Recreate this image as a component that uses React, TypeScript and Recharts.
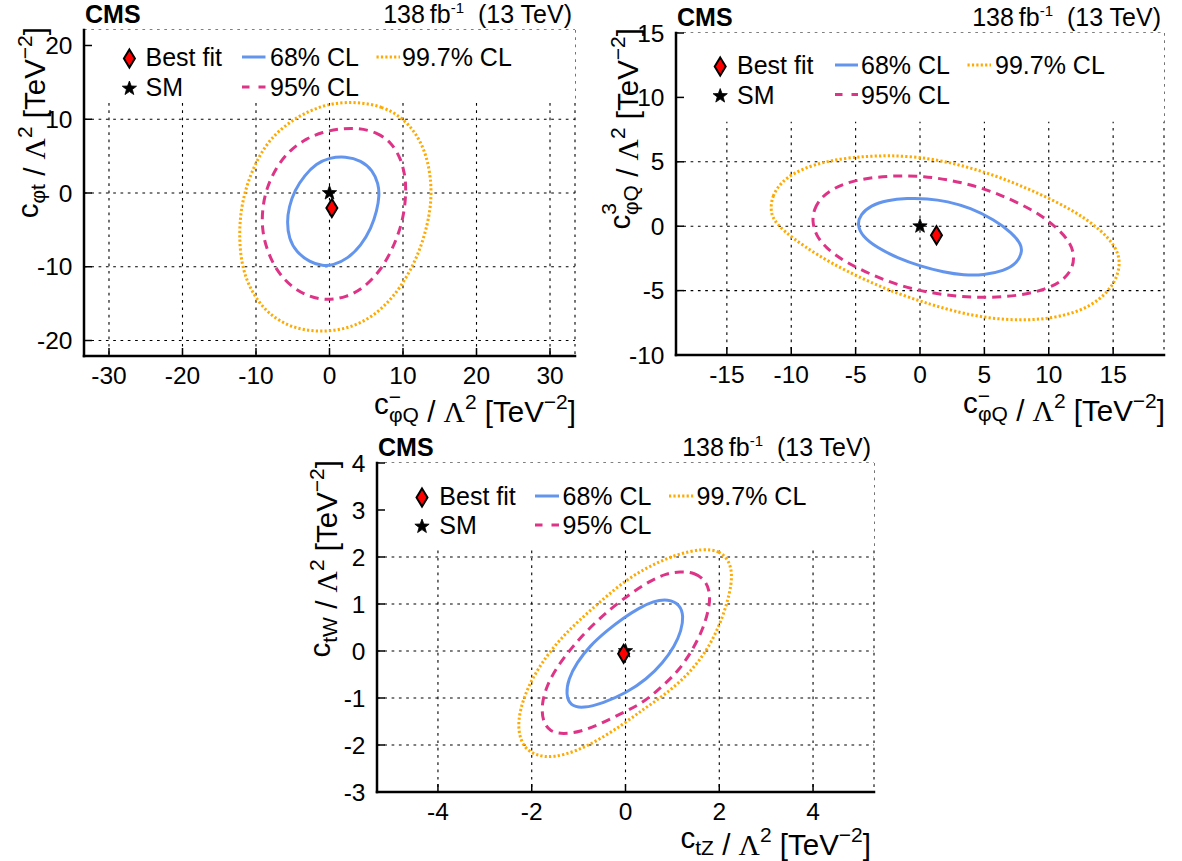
import React from 'react';
import { ComposedChart, Line, Scatter, XAxis, YAxis, CartesianGrid, ReferenceArea } from 'recharts';

type Pt = [number, number];

const SANS = '"Liberation Sans", Arial, Helvetica, sans-serif';
const SERIF = '"Liberation Serif", "Times New Roman", serif';

const COL68 = '#6495ED';
const COL95 = '#DE3487';
const COL997 = '#FFAA00';

// ---------------- Panel 1: c_phiQ^- vs c_phit ----------------
const P1_X_TICKS = [-30, -20, -10, 0, 10, 20, 30];
const P1_Y_TICKS = [-20, -10, 0, 10, 20];
const P1_X_DOMAIN: Pt = [-33.4, 33.4];
const P1_Y_DOMAIN: Pt = [-22.1, 22.1];
const P1_CL68: Pt[] = [
  [2.17, 4.98], [4.3, 4.43], [5.88, 3.08], [6.65, 1.27], [6.79, -0.32], [6.47, -2.35], [5.66, -4.84],
  [4.3, -7.1], [2.49, -8.91], [0.45, -9.82], [-0.9, -9.91], [-2.71, -9.37], [-4.52, -8.01], [-5.52, -6.2],
  [-5.79, -3.94], [-5.52, -1.9], [-4.75, 0.36], [-3.39, 2.4], [-1.81, 3.98], [0, 4.8],
];
const P1_CL95: Pt[] = [
  [3.85, 8.82], [6.33, 8.28], [8.37, 6.92], [9.73, 4.66], [10.32, 2.17], [10.41, 0.14], [10.18, -2.58],
  [9.5, -5.29], [8.37, -8.01], [6.79, -10.72], [4.52, -12.99], [2.26, -14.12], [-0.23, -14.57],
  [-2.71, -14.12], [-5.2, -12.76], [-7.24, -10.5], [-8.6, -7.56], [-9.19, -4.84], [-9.14, -2.13],
  [-8.6, 0.59], [-7.24, 3.53], [-5.43, 5.79], [-3.17, 7.38], [-0.9, 8.28], [1.36, 8.73],
];
const P1_CL997: Pt[] = [
  [3.8, 12.35], [7.18, 11.76], [9.78, 10.32], [11.86, 8.05], [13.32, 4.89], [13.94, 0.81], [13.68, -2.81],
  [12.64, -6.88], [11.08, -10.5], [8.74, -14.12], [5.88, -16.83], [2.5, -18.42], [-1.14, -18.87],
  [-4.79, -18.42], [-8.17, -16.61], [-10.51, -13.67], [-11.97, -10.05], [-12.33, -5.52], [-11.97, -1.45],
  [-10.77, 2.62], [-8.69, 6.7], [-5.83, 9.41], [-2.71, 11.22], [0.42, 12.22],
];
const P1_BEST: Pt = [0.32, -2.04];
const P1_SM: Pt = [0, 0];

// ---------------- Panel 2: c_phiQ^- vs c_phiQ^3 ----------------
const P2_X_TICKS = [-15, -10, -5, 0, 5, 10, 15];
const P2_Y_TICKS = [-10, -5, 0, 5, 10, 15];
const P2_X_DOMAIN: Pt = [-18.95, 18.95];
const P2_Y_DOMAIN: Pt = [-10, 15];
const P2_CL68: Pt[] = [
  [-4.88, 0.13], [-4.62, 0.91], [-3.84, 1.6], [-2.55, 2.02], [-1.0, 2.17], [0.56, 2.15], [2.11, 1.94],
  [3.92, 1.42], [5.73, 0.52], [7.16, -0.52], [7.86, -1.42], [7.93, -1.94], [7.59, -2.85], [6.5, -3.49],
  [4.95, -3.8], [3.4, -3.8], [1.85, -3.57], [0.04, -3.11], [-1.77, -2.46], [-3.32, -1.68], [-4.49, -0.78],
];
const P2_CL95: Pt[] = [
  [-8.37, 0.39], [-8.24, 1.29], [-7.72, 2.2], [-6.69, 2.98], [-5.14, 3.55], [-3.33, 3.83], [-1.51, 3.93],
  [0.3, 3.88], [2.11, 3.62], [3.92, 3.23], [5.73, 2.64], [7.54, 1.86], [9.36, 0.91], [10.78, -0.26],
  [11.69, -1.29], [12.0, -2.33], [11.82, -3.36], [11.04, -4.27], [9.74, -4.92], [7.8, -5.38], [5.47, -5.56],
  [3.14, -5.49], [0.82, -5.18], [-1.51, -4.66], [-3.84, -3.75], [-5.91, -2.72], [-7.33, -1.68], [-8.11, -0.65],
];
const P2_CL997: Pt[] = [
  [-11.61, 1.29], [-11.48, 2.33], [-10.83, 3.36], [-9.8, 4.14], [-8.24, 4.79], [-6.17, 5.25], [-4.1, 5.43],
  [-2.29, 5.49], [-0.22, 5.38], [1.85, 5.05], [3.92, 4.53], [5.99, 3.88], [8.06, 3.05], [10.13, 2.12],
  [12.2, 1.04], [14.01, -0.26], [15.18, -1.55], [15.57, -2.72], [15.31, -4.01], [14.53, -5.18],
  [13.24, -6.21], [11.43, -6.91], [9.36, -7.25], [7.29, -7.3], [5.22, -7.12], [3.14, -6.73], [0.82, -6.08],
  [-1.77, -5.23], [-4.36, -4.14], [-6.95, -2.85], [-9.02, -1.55], [-10.57, -0.39], [-11.4, 0.52],
];
const P2_BEST: Pt = [1.28, -0.7];
const P2_SM: Pt = [0, 0];

// ---------------- Panel 3: c_tZ vs c_tW ----------------
const P3_X_TICKS = [-4, -2, 0, 2, 4];
const P3_Y_TICKS = [-3, -2, -1, 0, 1, 2, 3, 4];
const P3_X_DOMAIN: Pt = [-5.3, 5.3];
const P3_Y_DOMAIN: Pt = [-3, 4];
const P3_CL68: Pt[] = [
  [0.91, 1.11], [1.16, 0.99], [1.24, 0.74], [1.19, 0.43], [1.05, 0.11], [0.8, -0.25], [0.45, -0.6],
  [0.02, -0.89], [-0.48, -1.11], [-0.9, -1.22], [-1.18, -1.17], [-1.27, -0.92], [-1.22, -0.6],
  [-1.04, -0.25], [-0.76, 0.11], [-0.4, 0.43], [-0.05, 0.7], [0.3, 0.92], [0.59, 1.06],
];
const P3_CL95: Pt[] = [
  [1.16, 1.69], [1.48, 1.67], [1.72, 1.49], [1.81, 1.21], [1.78, 0.89], [1.65, 0.46], [1.44, 0.04],
  [1.16, -0.39], [0.8, -0.74], [0.38, -1.1], [-0.05, -1.31], [-0.55, -1.56], [-0.97, -1.72], [-1.33, -1.77],
  [-1.61, -1.72], [-1.77, -1.49], [-1.79, -1.13], [-1.68, -0.74], [-1.47, -0.35], [-1.15, 0.07],
  [-0.76, 0.5], [-0.33, 0.89], [0.09, 1.21], [0.52, 1.49], [0.87, 1.65],
];
const P3_CL997: Pt[] = [
  [1.65, 2.18], [2.01, 2.13], [2.22, 1.91], [2.28, 1.6], [2.22, 1.21], [2.08, 0.74], [1.87, 0.25],
  [1.58, -0.21], [1.23, -0.6], [0.8, -0.96], [0.38, -1.24], [-0.05, -1.56], [-0.55, -1.88], [-1.04, -2.13],
  [-1.54, -2.27], [-1.89, -2.23], [-2.18, -2.06], [-2.3, -1.67], [-2.25, -1.24], [-2.07, -0.74],
  [-1.79, -0.25], [-1.4, 0.25], [-0.97, 0.67], [-0.48, 1.1], [0.02, 1.52], [0.52, 1.81], [1.09, 2.06],
];
const P3_BEST: Pt = [-0.04, -0.06];
const P3_SM: Pt = [0, 0];

// ---------------- layout ----------------
interface Frame { L: number; T: number; R: number; B: number }
const F1: Frame = { L: 84, T: 30, R: 575, B: 356 };
const F2: Frame = { L: 676, T: 33, R: 1164, B: 355 };
const F3: Frame = { L: 377, T: 463, R: 874, B: 792 };

interface PanelCfg {
  frame: Frame;
  xDomain: Pt; yDomain: Pt; xTicks: number[]; yTicks: number[];
  cl68: Pt[]; cl95: Pt[]; cl997: Pt[]; best: Pt; sm: Pt; legendFloor: number;
}

const PANELS: PanelCfg[] = [
  { frame: F1, xDomain: P1_X_DOMAIN, yDomain: P1_Y_DOMAIN, xTicks: P1_X_TICKS, yTicks: P1_Y_TICKS,
    cl68: P1_CL68, cl95: P1_CL95, cl997: P1_CL997, best: P1_BEST, sm: P1_SM, legendFloor: 12.6 },
  { frame: F2, xDomain: P2_X_DOMAIN, yDomain: P2_Y_DOMAIN, xTicks: P2_X_TICKS, yTicks: P2_Y_TICKS,
    cl68: P2_CL68, cl95: P2_CL95, cl997: P2_CL997, best: P2_BEST, sm: P2_SM, legendFloor: 8.1 },
  { frame: F3, xDomain: P3_X_DOMAIN, yDomain: P3_Y_DOMAIN, xTicks: P3_X_TICKS, yTicks: P3_Y_TICKS,
    cl68: P3_CL68, cl95: P3_CL95, cl997: P3_CL997, best: P3_BEST, sm: P3_SM, legendFloor: 2.2 },
];

const toXY = (pts: Pt[]) => pts.map(([x, y]) => ({ x, y }));

function starPoints(cx: number, cy: number, R: number, r: number) {
  const out: string[] = [];
  for (let i = 0; i < 10; i++) {
    const a = -Math.PI / 2 + (i * Math.PI) / 5;
    const rad = i % 2 === 0 ? R : r;
    out.push(`${cx + rad * Math.cos(a)},${cy + rad * Math.sin(a)}`);
  }
  return out.join(' ');
}

const Diamond = ({ cx, cy }: { cx: number; cy: number }) => (
  <polygon
    points={`${cx},${cy - 9} ${cx + 5.5},${cy} ${cx},${cy + 9} ${cx - 5.5},${cy}`}
    fill="#ff0000" stroke="#000" strokeWidth={2} strokeLinejoin="miter"
  />
);
const Star = ({ cx, cy }: { cx: number; cy: number }) => (
  <polygon points={starPoints(cx, cy, 7.5, 3.1)} fill="#000" stroke="#000" strokeWidth={0.8} />
);

function ContourPanel({ cfg }: { cfg: PanelCfg }) {
  const { L, T, R, B } = cfg.frame;
  const mL = 20, yW = 60, mT = 40, xH = 40, mB = 40, mR = 14;
  const W = R - L + mL + yW + mR;
  const H = B - T + mT + xH + mB;
  const axisLine = { stroke: '#000', strokeWidth: 2.5, strokeLinecap: 'square' as const };
  const tickLine = { stroke: '#000', strokeWidth: 1.5 };
  const tickFont = { fill: '#000', fontSize: 24.5, fontFamily: SANS };
  return (
    <div style={{ position: 'absolute', left: L - mL - yW, top: T - mT }}>
      <ComposedChart width={W} height={H} margin={{ top: mT, right: mR, bottom: mB, left: mL }}>
        <CartesianGrid stroke="#000" strokeWidth={1.1} strokeDasharray="2.7 4.6" />
        <ReferenceArea
          x1={cfg.xDomain[0]} x2={cfg.xDomain[1]} y1={cfg.legendFloor} y2={cfg.yDomain[1]}
          fill="#fff" fillOpacity={1} stroke="none"
        />
        <Line data={toXY(cfg.cl997)} dataKey="y" type="basisClosed" stroke={COL997} strokeWidth={3}
          strokeDasharray="2.2 2.2" dot={false} activeDot={false} isAnimationActive={false} />
        <Line data={toXY(cfg.cl95)} dataKey="y" type="basisClosed" stroke={COL95} strokeWidth={3}
          strokeDasharray="9 6" dot={false} activeDot={false} isAnimationActive={false} />
        <Line data={toXY(cfg.cl68)} dataKey="y" type="basisClosed" stroke={COL68} strokeWidth={3}
          dot={false} activeDot={false} isAnimationActive={false} />
        <Scatter data={[{ x: cfg.sm[0], y: cfg.sm[1] }]} dataKey="y" isAnimationActive={false}
          shape={(p: any) => <Star cx={p.cx} cy={p.cy} />} />
        <Scatter data={[{ x: cfg.best[0], y: cfg.best[1] }]} dataKey="y" isAnimationActive={false}
          shape={(p: any) => <Diamond cx={p.cx} cy={p.cy} />} />
        <XAxis type="number" dataKey="x" domain={cfg.xDomain} ticks={cfg.xTicks} interval={0}
          allowDataOverflow height={xH} tickSize={-8} tickMargin={19}
          axisLine={axisLine} tickLine={tickLine} tick={tickFont} />
        <XAxis xAxisId="top" orientation="top" type="number" domain={cfg.xDomain} ticks={cfg.xTicks}
          interval={0} allowDataOverflow height={0} tickSize={-8} tick={false}
          axisLine={axisLine} tickLine={tickLine} />
        <YAxis type="number" dataKey="y" domain={cfg.yDomain} ticks={cfg.yTicks} interval={0}
          allowDataOverflow width={yW} tickSize={-8} tickMargin={19.5}
          axisLine={axisLine} tickLine={tickLine} tick={tickFont} />
        <YAxis yAxisId="right" orientation="right" type="number" domain={cfg.yDomain} ticks={cfg.yTicks}
          interval={0} allowDataOverflow width={0} tickSize={-8} tick={false}
          axisLine={axisLine} tickLine={tickLine} />
      </ComposedChart>
    </div>
  );
}

function Header({ f }: { f: Frame }) {
  return (
    <g fontFamily={SANS} fontSize={25} fill="#000">
      <text x={f.L + 1} y={f.T - 7} fontWeight="bold">CMS</text>
      <text x={f.R - 3} y={f.T - 7} textAnchor="end" style={{ whiteSpace: 'pre' }}>
        {'138\u2009fb'}
        <tspan fontSize={15} dy={-10}>-1</tspan>
        <tspan dy={10}>{'  (13 TeV)'}</tspan>
      </text>
    </g>
  );
}

interface LegendPos { mX: number; tX: number; lX1: number; lX2: number; ltX: number; dX1: number; dX2: number; dtX: number; r1: number; r2: number }
const LG1: LegendPos = { mX: 129.4, tX: 145.5, lX1: 242, lX2: 265.5, ltX: 270, dX1: 376.5, dX2: 400, dtX: 402, r1: 66, r2: 96 };
const LG2: LegendPos = { mX: 720.2, tX: 737, lX1: 835, lX2: 858, ltX: 861, dX1: 967.5, dX2: 991, dtX: 995, r1: 74, r2: 103.5 };
const LG3: LegendPos = { mX: 422, tX: 439.3, lX1: 535, lX2: 559, ltX: 562.5, dX1: 669, dX2: 694, dtX: 696.5, r1: 505, r2: 534 };

function LegendBlock({ g }: { g: LegendPos }) {
  return (
    <g fontFamily={SANS} fontSize={25} fill="#000">
      <Diamond cx={g.mX} cy={g.r1 - 7.5} />
      <text x={g.tX} y={g.r1}>Best fit</text>
      <Star cx={g.mX} cy={g.r2 - 7.5} />
      <text x={g.tX} y={g.r2}>SM</text>
      <line x1={g.lX1} x2={g.lX2} y1={g.r1 - 9} y2={g.r1 - 9} stroke={COL68} strokeWidth={3} />
      <text x={g.ltX} y={g.r1}>68% CL</text>
      <line x1={g.lX1} x2={g.lX2} y1={g.r2 - 9} y2={g.r2 - 9} stroke={COL95} strokeWidth={3} strokeDasharray="7.5 9" />
      <text x={g.ltX} y={g.r2}>95% CL</text>
      <line x1={g.dX1} x2={g.dX2} y1={g.r1 - 9} y2={g.r1 - 9} stroke={COL997} strokeWidth={3} strokeDasharray="2.2 2.2" />
      <text x={g.dtX} y={g.r1}>99.7% CL</text>
    </g>
  );
}

const SUB = 21;
const TAIL = (
  <>
    <tspan>{' / '}</tspan>
    <tspan fontFamily={SERIF}>Λ</tspan>
    <tspan fontSize={SUB} dy={-13}>2</tspan>
    <tspan dy={13}>{' [TeV'}</tspan>
    <tspan fontSize={SUB} dy={-13}>−2</tspan>
    <tspan dy={13}>]</tspan>
  </>
);

function AxisTitle({ x, y, rotate, children }: { x: number; y: number; rotate?: boolean; children: React.ReactNode }) {
  return (
    <text transform={`translate(${x},${y})${rotate ? ' rotate(-90)' : ''}`} textAnchor="end"
      fontFamily={SANS} fontSize={29.5} fill="#000" style={{ whiteSpace: 'pre' }}>
      {children}
    </text>
  );
}

const PhiQMinus = (
  <>
    <tspan>c</tspan>
    <tspan fontSize={SUB} dy={-10}>−</tspan>
    <tspan fontSize={SUB} dx={-12} dy={18}>φQ</tspan>
    <tspan dy={-8}>{''}</tspan>
  </>
);

export default function App() {
  return (
    <div style={{ position: 'absolute', left: 0, top: 0, width: 1182, height: 861, background: '#fff', overflow: 'hidden' }}>
      {PANELS.map((p, i) => (
        <ContourPanel key={i} cfg={p} />
      ))}
      <svg width={1182} height={861} style={{ position: 'absolute', left: 0, top: 0, pointerEvents: 'none' }}>
        <Header f={F1} />
        <Header f={F2} />
        <Header f={F3} />
        <LegendBlock g={LG1} />
        <LegendBlock g={LG2} />
        <LegendBlock g={LG3} />
        {/* Panel 1 titles */}
        <AxisTitle x={F1.R + 1} y={F1.B + 58}>{PhiQMinus}{TAIL}</AxisTitle>
        <AxisTitle x={F1.L - 46} y={F1.T - 3} rotate>
          <tspan>c</tspan>
          <tspan fontSize={SUB} dy={7}>φt</tspan>
          <tspan dy={-7}>{''}</tspan>
          {TAIL}
        </AxisTitle>
        {/* Panel 2 titles */}
        <AxisTitle x={F2.R + 1} y={F2.B + 58}>{PhiQMinus}{TAIL}</AxisTitle>
        <AxisTitle x={F2.L - 46} y={F2.T - 5} rotate>
          <tspan>c</tspan>
          <tspan fontSize={SUB} dy={-14}>3</tspan>
          <tspan fontSize={SUB} dx={-12} dy={22}>φQ</tspan>
          <tspan dy={-8}>{''}</tspan>
          {TAIL}
        </AxisTitle>
        {/* Panel 3 titles */}
        <AxisTitle x={F3.R - 3} y={F3.B + 56}>
          <tspan>c</tspan>
          <tspan fontSize={SUB} dy={7}>tZ</tspan>
          <tspan dy={-7}>{''}</tspan>
          {TAIL}
        </AxisTitle>
        <AxisTitle x={F3.L - 47} y={F3.T - 3} rotate>
          <tspan>c</tspan>
          <tspan fontSize={SUB} dy={7}>tW</tspan>
          <tspan dy={-7}>{''}</tspan>
          {TAIL}
        </AxisTitle>
      </svg>
    </div>
  );
}
